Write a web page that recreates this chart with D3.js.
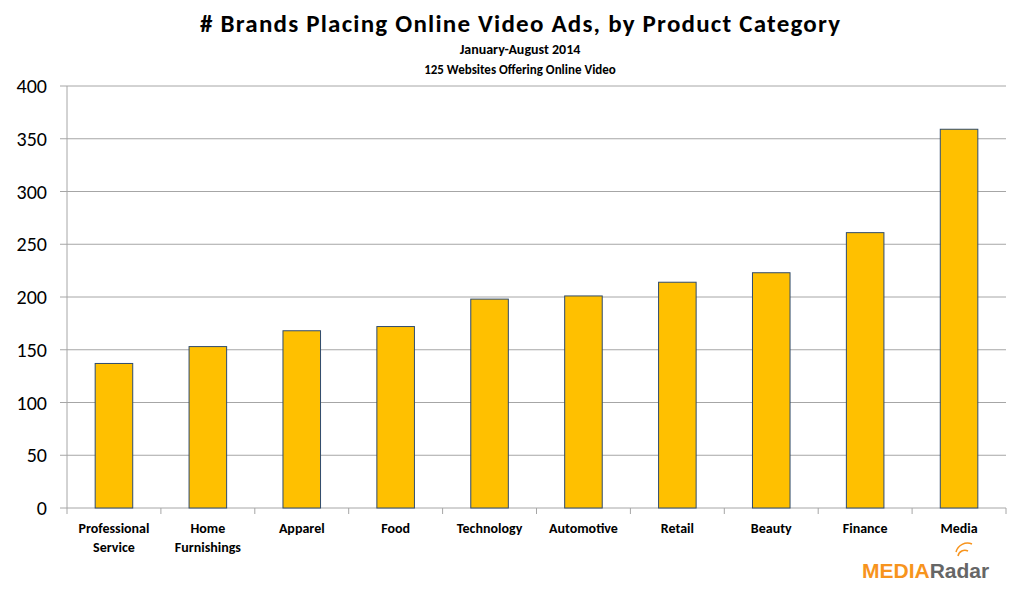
<!DOCTYPE html>
<html><head><meta charset="utf-8">
<script src="https://cdn.jsdelivr.net/npm/d3@7"></script>
<style>body{margin:0;background:#fff;}</style>
</head><body><div id="chart"></div>
<script>
const categories = ["Professional|Service", "Home|Furnishings", "Apparel", "Food", "Technology", "Automotive", "Retail", "Beauty", "Finance", "Media"];
const brands = [137, 153, 168, 172, 198, 201, 214, 223, 261, 359];
const yTicks = [0, 50, 100, 150, 200, 250, 300, 350, 400];

const width = 1024, height = 594;
const margin = { top: 86, right: 18, bottom: 86, left: 67 };
const innerW = width - margin.left - margin.right;
const innerH = height - margin.top - margin.bottom;
const font = "Calibri, Carlito, 'Liberation Sans', sans-serif";

const svg = d3.select('#chart').append('svg').attr('width', width).attr('height', height)
  .style('font-family', font);

svg.append('text').attr('x', 520).attr('y', 32).attr('text-anchor', 'middle')
  .attr('font-size', 25).attr('font-weight', 700).attr('textLength', 640)
  .text('# Brands Placing Online Video Ads, by Product Category');
svg.append('text').attr('x', 520).attr('y', 54).attr('text-anchor', 'middle')
  .attr('font-size', 14).attr('font-weight', 700).text('January-August 2014');
svg.append('text').attr('x', 520).attr('y', 74).attr('text-anchor', 'middle')
  .attr('font-size', 13).attr('font-weight', 700).text('125 Websites Offering Online Video');

const g = svg.append('g').attr('transform', `translate(${margin.left},${margin.top})`);
const x = d3.scaleBand().domain(categories).range([0, innerW]).paddingInner(0.6).paddingOuter(0.3);
const xEdges = d3.scaleBand().domain(categories).range([0, innerW]);
const y = d3.scaleLinear().domain([0, 400]).range([innerH, 0]);

g.selectAll('.grid').data(yTicks).join('line')
  .attr('x1', -7).attr('x2', innerW).attr('y1', d => y(d)).attr('y2', d => y(d))
  .attr('stroke', '#a6a6a6').attr('stroke-width', 1);
g.append('line').attr('x1', 0).attr('x2', 0).attr('y1', 0).attr('y2', innerH)
  .attr('stroke', '#a6a6a6');
g.selectAll('.xtick').data(categories.map(c => xEdges(c)).concat([innerW])).join('line')
  .attr('x1', d => d).attr('x2', d => d).attr('y1', innerH).attr('y2', innerH + 6)
  .attr('stroke', '#a6a6a6');

g.selectAll('.ytick').data(yTicks).join('text')
  .attr('x', -20).attr('y', d => y(d)).attr('dy', '0.35em').attr('text-anchor', 'end')
  .attr('font-size', 20).text(d => d);

g.selectAll('.bar').data(categories).join('rect')
  .attr('x', d => x(d)).attr('width', x.bandwidth())
  .attr('y', (d, i) => y(brands[i])).attr('height', (d, i) => innerH - y(brands[i]))
  .attr('fill', '#ffc000').attr('stroke', '#2f4b6e').attr('stroke-width', 1);

const lab = g.selectAll('.xlab').data(categories).join('text')
  .attr('text-anchor', 'middle').attr('font-size', 14).attr('font-weight', 700)
  .attr('transform', d => `translate(${x(d) + x.bandwidth() / 2},${innerH + 25})`);
lab.selectAll('tspan').data(d => d.split('|')).join('tspan')
  .attr('x', 0).attr('dy', (d, i) => i ? 19 : 0).text(d => d);

const logo = svg.append('text').attr('x', 862).attr('y', 578).attr('font-family', "'Liberation Sans', Arial, sans-serif")
  .attr('font-size', 21).attr('font-weight', 700);
logo.append('tspan').attr('fill', '#f7941d').text('MEDIA');
logo.append('tspan').attr('fill', '#666').text('Radar');
svg.append('path').attr('d', 'M958,556 a7,7 0 0 1 10,-5 M956,552 a12,12 0 0 1 16,-8')
  .attr('fill', 'none').attr('stroke', '#f7941d').attr('stroke-width', 1.5);
</script></body></html>
